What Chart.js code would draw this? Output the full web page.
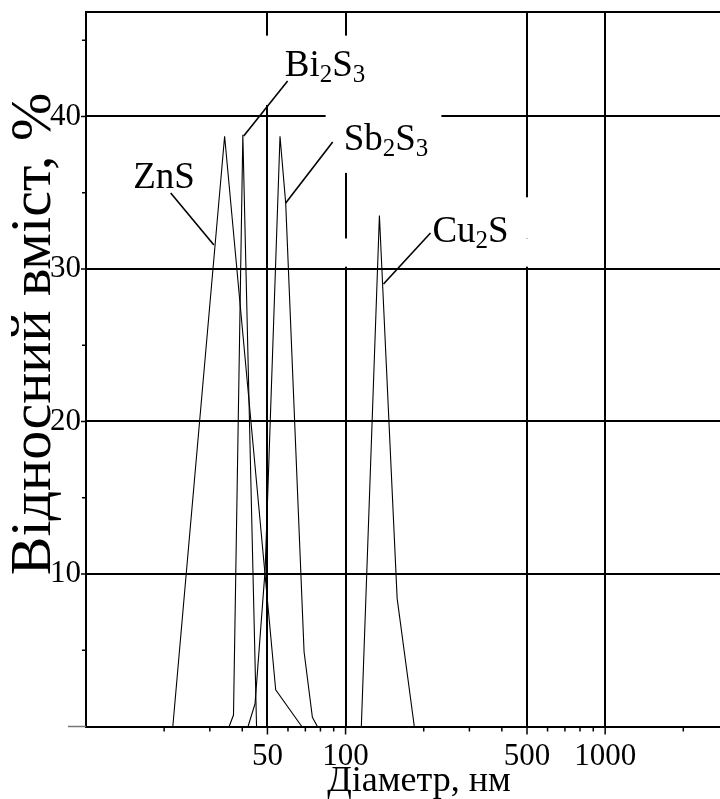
<!DOCTYPE html>
<html><head><meta charset="utf-8">
<script src="https://cdn.jsdelivr.net/npm/chart.js@4.4.0/dist/chart.umd.min.js"></script>
<style>html,body{margin:0;padding:0;background:#fff;overflow:hidden}#wrap{width:720px;height:799px}</style>
</head><body><div id="wrap"><canvas id="c" width="720" height="799"></canvas></div>
<script>
// ---- data ----
const znsX   = [21.6, 34.2, 53.8, 67.8];
const znsY   = [0, 38.7, 2.4, 0];
const bi2s3X = [35.6, 37.0, 40.2, 45.4];
const bi2s3Y = [0, 0.75, 38.8, 0];
const sb2s3X = [42.1, 44.8, 49.0, 55.9, 58.8, 69.2, 74.5, 77.9];
const sb2s3Y = [0, 1.5, 10.3, 38.7, 34.3, 4.9, 0.6, 0];
const cu2sX  = [115, 135, 158, 184];
const cu2sY  = [0, 33.5, 8.4, 0];

const xTickLabels = [50, 100, 500, 1000];
const xMinorTicks = [20, 30, 40, 60, 70, 80, 90, 200, 300, 400, 600, 700, 800, 900, 2000];
const yTickLabels = [10, 20, 30, 40];
const yMinorTicks = [5, 15, 25, 35, 45];

const xTitle = 'Діаметр, нм';
const yTitle = 'Відносний вміст, %';

// ---- annotations (data coordinates) ----
const chemLabels = [
  {parts: [['Zn', 0], ['S', 0]],                    at: [15.2, 35.3],  from: [21.2, 34.98], to: [31.1, 31.57]},
  {parts: [['Bi', 0], ['2', 1], ['S', 0], ['3', 1]], at: [58.3, 42.66], from: [59.8, 42.33], to: [40.5, 38.72]},
  {parts: [['Sb', 0], ['2', 1], ['S', 0], ['3', 1]], at: [98.3, 37.8],  from: [89.2, 38.33], to: [58.8, 34.33]},
  {parts: [['Cu', 0], ['2', 1], ['S', 0]],           at: [216, 31.77],  from: [212.4, 32.36], to: [140.0, 29.02]}
];
// white label boxes that interrupt the grid: [xMin, xMax, yMin, yMax]
const gapBoxes = [
  [47, 115, 40.75, 45.3],
  [83.8, 234, 36.3, 40.75],
  [98, 560, 30.15, 32.0],
  [400, 560, 32.0, 34.7]
];

const FONT = "'Liberation Serif','Times New Roman',serif";
const pts = (xs, ys) => xs.map((v, i) => ({x: v, y: ys[i]}));
const lineStyle = {borderColor: '#000', borderWidth: 1.1, pointRadius: 0, tension: 0, fill: false};

const decor = {
  id: 'decor',
  beforeDatasetsDraw(chart) {
    const {ctx, chartArea: a, scales: {x, y}} = chart;
    ctx.save();
    ctx.fillStyle = '#fff';
    for (const b of gapBoxes) {
      const x1 = x.getPixelForValue(b[0]), x2 = x.getPixelForValue(b[1]);
      const y1 = y.getPixelForValue(b[3]), y2 = y.getPixelForValue(b[2]);
      ctx.fillRect(x1, y1, x2 - x1, y2 - y1);
    }
    ctx.strokeStyle = '#000';
    ctx.lineWidth = 2;
    ctx.beginPath(); ctx.moveTo(a.left - 1, a.top); ctx.lineTo(a.right, a.top); ctx.stroke();
    ctx.lineWidth = 1.5;
    ctx.beginPath();
    for (const v of xMinorTicks) { const p = x.getPixelForValue(v); ctx.moveTo(p, a.bottom); ctx.lineTo(p, a.bottom + 5); }
    for (const v of xTickLabels) { const p = x.getPixelForValue(v); ctx.moveTo(p, a.bottom); ctx.lineTo(p, a.bottom + 8); }
    for (const v of yMinorTicks) { const p = y.getPixelForValue(v); ctx.moveTo(a.left, p); ctx.lineTo(a.left - 4, p); }
    for (const v of yTickLabels) { const p = y.getPixelForValue(v); ctx.moveTo(a.left, p); ctx.lineTo(a.left - 5, p); }
    ctx.stroke();
    ctx.strokeStyle = '#777';
    ctx.beginPath(); ctx.moveTo(a.left - 18, a.bottom); ctx.lineTo(a.left, a.bottom); ctx.stroke();
    ctx.restore();
  },
  afterDatasetsDraw(chart) {
    const {ctx, chartArea: a, scales: {x, y}} = chart;
    ctx.save();
    ctx.fillStyle = '#000';
    ctx.strokeStyle = '#000';
    ctx.lineWidth = 1.6;
    for (const l of chemLabels) {
      ctx.beginPath();
      ctx.moveTo(x.getPixelForValue(l.from[0]), y.getPixelForValue(l.from[1]));
      ctx.lineTo(x.getPixelForValue(l.to[0]), y.getPixelForValue(l.to[1]));
      ctx.stroke();
      let px = x.getPixelForValue(l.at[0]);
      const py = y.getPixelForValue(l.at[1]);
      ctx.textAlign = 'left';
      ctx.textBaseline = 'alphabetic';
      for (const [t, sub] of l.parts) {
        ctx.font = (sub ? '25px ' : '37px ') + FONT;
        ctx.fillText(t, px, py + (sub ? 6 : 0));
        px += ctx.measureText(t).width;
      }
    }
    // axis titles
    ctx.font = '36px ' + FONT;
    ctx.textAlign = 'center';
    ctx.textBaseline = 'alphabetic';
    ctx.fillText(xTitle, 419, 791);
    ctx.translate(50, 334);
    ctx.rotate(-Math.PI / 2);
    ctx.font = '58px ' + FONT;
    ctx.fillText(yTitle, 0, 0);
    ctx.restore();
  }
};

new Chart(document.getElementById('c'), {
  type: 'line',
  data: {
    datasets: [
      {label: 'ZnS', data: pts(znsX, znsY), ...lineStyle},
      {label: 'Bi2S3', data: pts(bi2s3X, bi2s3Y), ...lineStyle},
      {label: 'Sb2S3', data: pts(sb2s3X, sb2s3Y), ...lineStyle},
      {label: 'Cu2S', data: pts(cu2sX, cu2sY), ...lineStyle}
    ]
  },
  options: {
    responsive: false,
    animation: false,
    devicePixelRatio: 1,
    layout: {padding: {top: 12, left: 0, right: 0, bottom: 0}},
    plugins: {legend: {display: false}, tooltip: {enabled: false}, title: {display: false}},
    scales: {
      x: {
        type: 'logarithmic', min: 10, max: 2770,
        afterBuildTicks: s => { s.ticks = [...xMinorTicks, ...xTickLabels].sort((a, b) => a - b).map(v => ({value: v})); },
        afterFit: s => { s.height = 72.5; s.paddingLeft = 0; s.paddingRight = 0; },
        ticks: {autoSkip: false, maxRotation: 0, minRotation: 0, color: '#000', padding: 12,
                font: {family: FONT, size: 31},
                callback: v => xTickLabels.includes(v) ? String(v) : ''},
        grid: {color: c => (c.tick && xTickLabels.includes(c.tick.value)) ? '#000' : 'rgba(0,0,0,0)', lineWidth: 2, drawTicks: false},
        border: {color: '#000', width: 2}
      },
      y: {
        type: 'linear', min: 0, max: 46.85,
        afterBuildTicks: s => { s.ticks = [0, ...yTickLabels].map(v => ({value: v})); },
        afterFit: s => { s.width = 86; s.paddingTop = 0; s.paddingBottom = 0; },
        ticks: {color: '#000', padding: 5, font: {family: FONT, size: 31},
                callback: v => yTickLabels.includes(v) ? String(v) : ''},
        grid: {color: c => (c.tick && yTickLabels.includes(c.tick.value)) ? '#000' : 'rgba(0,0,0,0)', lineWidth: 2, drawTicks: false},
        border: {color: '#000', width: 2}
      }
    }
  },
  plugins: [decor]
});
</script>
</body></html>
